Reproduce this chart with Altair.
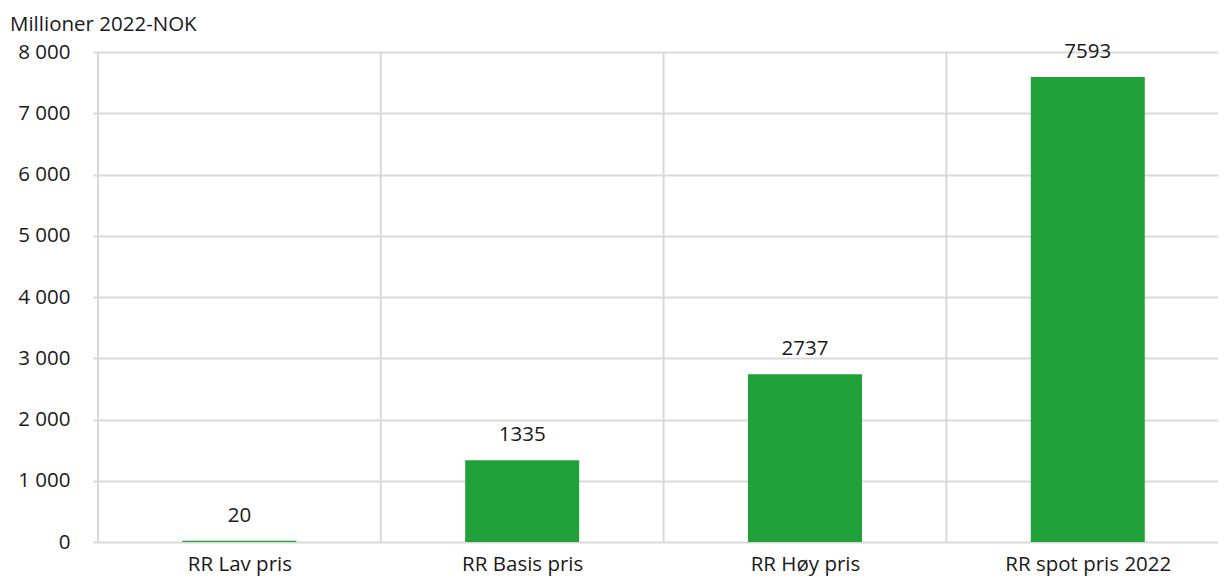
import json
import altair as alt
import pandas as pd

categories = ["RR Lav pris", "RR Basis pris", "RR Høy pris", "RR spot pris 2022"]
values = [20, 1335, 2737, 7593]
y_ticks = [0, 1000, 2000, 3000, 4000, 5000, 6000, 7000, 8000]

n = len(categories)
df = pd.DataFrame({
    "kategori": categories,
    "verdi": values,
    "start": list(range(n)),
    "midt": [i + 0.5 for i in range(n)],
})

FONT = "Open Sans"
FS = 20.5
GRID = "#d9d9d9"
TXT = "#1a1a1a"
GREEN = "#21a139"

PLOT_W = 1125
STEP = 285.33
x_max = PLOT_W / STEP  # plot area shows the bands up to the window edge

xscale = alt.Scale(domain=[0, x_max], nice=False, zero=False)
label_expr = json.dumps(categories, ensure_ascii=False) + "[floor(datum.value)]"

base = alt.Chart(df)

vgrid = base.mark_rule(color=GRID, strokeWidth=2).encode(
    x=alt.X("start:Q", scale=xscale, title=None)
)

bars = base.mark_bar(color=GREEN, size=114).encode(
    x=alt.X(
        "midt:Q",
        scale=xscale,
        title=None,
        axis=alt.Axis(
            values=[i + 0.5 for i in range(n)], labelExpr=label_expr,
            grid=False, ticks=False, domain=False, labelAngle=0,
            labelAlign="center", labelFlush=False, labelOverlap=False,
            labelFont=FONT, labelFontSize=FS, labelColor=TXT, labelPadding=12,
        ),
    ),
    y=alt.Y(
        "verdi:Q",
        scale=alt.Scale(domain=[0, 8000], nice=False),
        title=None,
        axis=alt.Axis(
            values=y_ticks, grid=True, gridColor=GRID, gridWidth=2,
            ticks=False, domain=False,
            labelFont=FONT, labelFontSize=FS, labelColor=TXT, labelPadding=23,
            labelExpr="replace(format(datum.value, ',d'), ',', ' ')",
        ),
    ),
)

labels = base.mark_text(
    font=FONT, fontSize=FS, color=TXT, baseline="alphabetic", dy=-19
).encode(
    x=alt.X("midt:Q", scale=xscale),
    y=alt.Y("verdi:Q"),
    text=alt.Text("verdi:Q", format="d"),
)

chart = (
    alt.layer(vgrid, bars, labels)
    .properties(
        width=PLOT_W,
        height=490,
        autosize=alt.AutoSizeParams(type="none"),
        padding={"left": 85, "top": 44, "right": 0, "bottom": 35},
        title=alt.TitleParams(
            "Millioner 2022-NOK", anchor="start", frame="group", dx=-83,
            offset=6, fontSize=FS, font=FONT, fontWeight="normal", color=TXT,
        ),
    )
    .configure_view(stroke=None)
)

chart.save("out.html", embed_options={"renderer": "svg", "actions": False})
